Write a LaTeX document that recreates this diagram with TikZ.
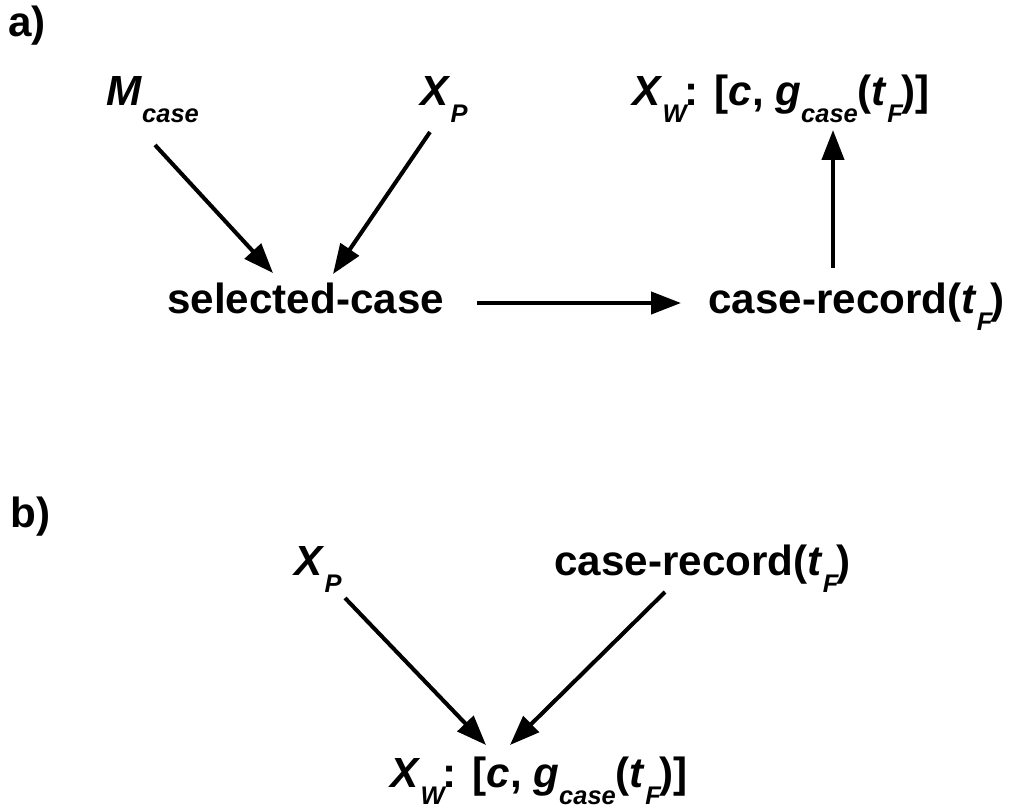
\documentclass[tikz,border=0pt]{standalone}
\usepackage{fontspec}
\setmainfont{Liberation Sans}
\usetikzlibrary{arrows.meta}
\newcommand{\sbs}[1]{\raisebox{-10pt}{\fontsize{14.5pt}{14.5pt}\selectfont\itshape #1}}
\begin{document}
\begin{tikzpicture}[x=0.02cm,y=-0.02cm,
  lbl/.style={anchor=base west,inner sep=0pt,font=\bfseries\fontsize{24pt}{28pt}\selectfont},
  arr/.style={line width=2.3pt,-{Triangle[length=17pt,width=12.5pt]}}]
\useasboundingbox (0,0) rectangle (1011,808);
% part a
\node[lbl] (la) at (8,36) {a)};
\node[lbl] (mcase) at (106,105) {\textit{M}\sbs{case}};
\node[lbl] (xpa) at (420,105) {\textit{X}\sbs{P}};
\node[lbl] (xwa) at (632,105) {\textit{X}\sbs{W}\kern-1pt: [\textit{c}, \textit{g}\sbs{case}(\textit{t}\sbs{F}\kern-1pt)]};
\node[lbl] (sel) at (167,313) {selected-case};
\node[lbl] (cra) at (708,313) {case-record(\textit{t}\sbs{F}\kern-1pt)};
\coordinate (a1s) at (155,145);
\coordinate (a1e) at (273,273);
\coordinate (a2s) at (430,132);
\coordinate (a2e) at (333,274);
\coordinate (a3s) at (477,303);
\coordinate (a3e) at (681,303);
\coordinate (a4s) at (833,268);
\coordinate (a4e) at (833,130);
\draw[arr] (a1s) -- (a1e);
\draw[arr] (a2s) -- (a2e);
\draw[arr] (a3s) -- (a3e);
\draw[arr] (a4s) -- (a4e);
% part b
\node[lbl] (lb) at (10,527) {b)};
\node[lbl] (xpb) at (294,575) {\textit{X}\sbs{P}};
\node[lbl] (crb) at (554,575) {case-record(\textit{t}\sbs{F}\kern-1pt)};
\node[lbl] (xwb) at (390,787) {\textit{X}\sbs{W}\kern-1pt: [\textit{c}, \textit{g}\sbs{case}(\textit{t}\sbs{F}\kern-1pt)]};
\coordinate (b1s) at (345,598);
\coordinate (b1e) at (486,745);
\coordinate (b2s) at (665,592);
\coordinate (b2e) at (510,745);
\draw[arr] (b1s) -- (b1e);
\draw[arr] (b2s) -- (b2e);
\end{tikzpicture}
\end{document}
